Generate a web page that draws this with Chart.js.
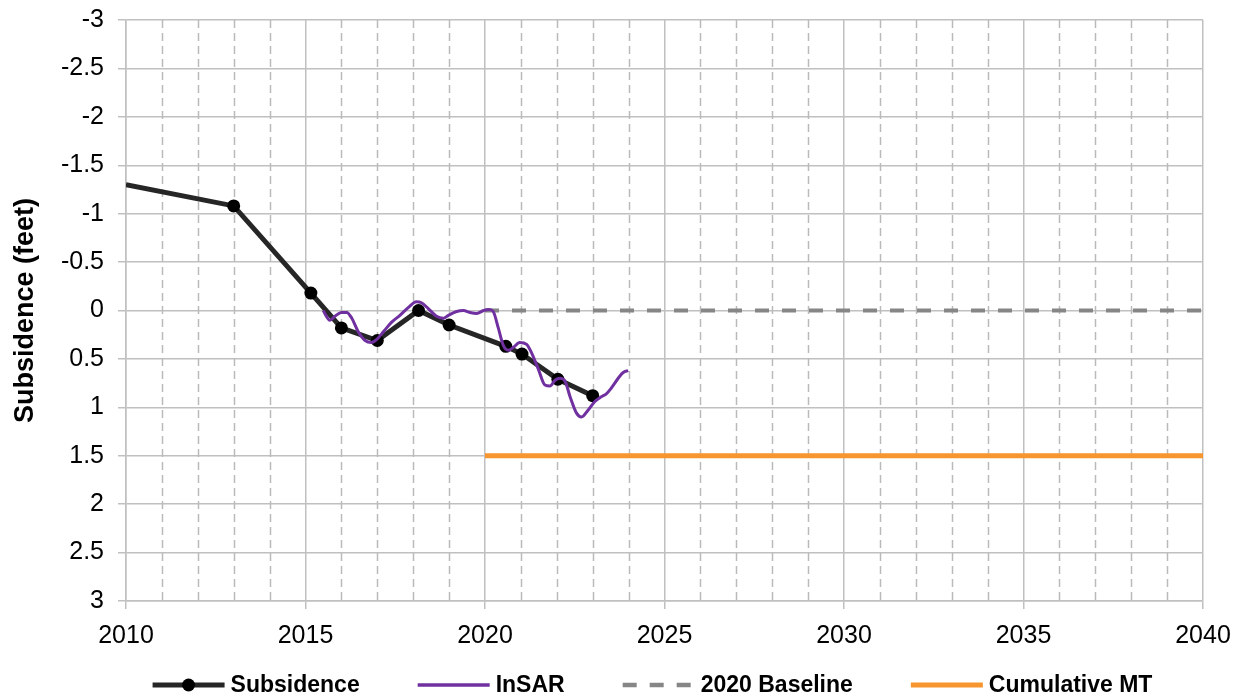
<!DOCTYPE html>
<html>
<head>
<meta charset="utf-8">
<script src="https://cdn.jsdelivr.net/npm/chart.js@4.4.1/dist/chart.umd.min.js"></script>
<style>
  html, body { margin: 0; padding: 0; background: #fff; }
  #wrap { width: 1244px; height: 698px; }
</style>
</head>
<body>
<div id="wrap"><canvas id="subsidenceChart" width="1244" height="698"></canvas></div>
<script>
const subsidenceYears = [2010, 2013.0, 2015.15, 2016.0, 2017.0, 2018.15, 2019.0, 2020.58, 2021.03, 2022.03, 2023.0];
const subsidenceValues = [-1.3, -1.08, -0.18, 0.18, 0.31, 0.0, 0.15, 0.37, 0.45, 0.71, 0.88];

const insarYears = [2015.49, 2015.68, 2015.82, 2016.0, 2016.15, 2016.29, 2016.47, 2016.66, 2016.84, 2016.98,
  2017.17, 2017.4, 2017.63, 2017.86, 2018.09, 2018.23, 2018.42, 2018.65, 2018.84, 2018.98,
  2019.21, 2019.4, 2019.58, 2019.77, 2019.96, 2020.12, 2020.23, 2020.37, 2020.51, 2020.65,
  2020.79, 2020.97, 2021.16, 2021.3, 2021.48, 2021.67, 2021.81, 2021.95, 2022.09, 2022.23,
  2022.37, 2022.55, 2022.69, 2022.87, 2023.06, 2023.24, 2023.38, 2023.52, 2023.71, 2023.85, 2023.99];
const insarValues = [0.0, 0.1, 0.06, 0.02, 0.02, 0.08, 0.22, 0.31, 0.33, 0.3,
  0.22, 0.12, 0.05, -0.03, -0.09, -0.08, -0.02, 0.06, 0.08, 0.05,
  0.01, 0.0, 0.02, 0.03, 0.0, -0.01, 0.01, 0.18, 0.36, 0.41,
  0.38, 0.33, 0.35, 0.44, 0.6, 0.77, 0.78, 0.72, 0.7, 0.73,
  0.89, 1.06, 1.1, 1.03, 0.94, 0.89, 0.86, 0.8, 0.7, 0.64, 0.62];

const baselineYears = [2020, 2040];
const baselineValues = [0, 0];

const mtYears = [2020, 2040];
const mtValues = [1.5, 1.5];

const seriesNames = ["Subsidence", "InSAR", "2020 Baseline", "Cumulative MT"];

const toPoints = (xs, ys) => xs.map((x, i) => ({ x: x, y: ys[i] }));

const tickFont = '"Liberation Sans", Arial, sans-serif';
const gridGray = "#c0c0c0";

// dashed lines for the in-between years
const minorGrid = {
  id: "minorGrid",
  beforeDatasetsDraw(chart) {
    const { ctx, chartArea, scales } = chart;
    const x = scales.x;
    ctx.save();
    ctx.strokeStyle = "#bababa";
    ctx.lineWidth = 1.5;
    ctx.setLineDash([8, 5]);
    x.ticks.forEach(t => {
      if (t.value % 5 === 0) return;
      const px = Math.round(x.getPixelForValue(t.value)) + 0.5;
      ctx.beginPath();
      ctx.moveTo(px, chartArea.top);
      ctx.lineTo(px, chartArea.bottom);
      ctx.stroke();
    });
    ctx.restore();
  }
};

// legend under the axis, line samples like the original
const bottomLegend = {
  id: "bottomLegend",
  afterDraw(chart) {
    const { ctx, chartArea } = chart;
    const sample = 72, gapText = 6, gapItem = 58, y = 685;
    ctx.save();
    ctx.font = 'bold 23px ' + tickFont;
    const items = chart.data.datasets.map(ds => ({ ds, w: ctx.measureText(ds.label).width }));
    const total = items.reduce((s, it) => s + sample + gapText + it.w, 0) + gapItem * (items.length - 1);
    let x = (chartArea.left + chartArea.right) / 2 - 12 - total / 2;
    items.forEach(({ ds, w }) => {
      ctx.strokeStyle = ds.borderColor;
      ctx.lineWidth = ds.legendWidth;
      ctx.setLineDash(ds.borderDash || []);
      ctx.beginPath();
      ctx.moveTo(x, y);
      ctx.lineTo(x + sample, y);
      ctx.stroke();
      ctx.setLineDash([]);
      if (ds.legendMarker) {
        ctx.fillStyle = ds.pointBackgroundColor;
        ctx.beginPath();
        ctx.arc(x + sample / 2, y, 6.5, 0, Math.PI * 2);
        ctx.fill();
      }
      ctx.fillStyle = "#000";
      ctx.textBaseline = "middle";
      ctx.fillText(ds.label, x + sample + gapText, y + 1);
      x += sample + gapText + w + gapItem;
    });
    ctx.restore();
  }
};

const canvas = document.getElementById("subsidenceChart");

new Chart(canvas, {
  type: "line",
  data: {
    datasets: [
      {
        label: seriesNames[0],
        data: toPoints(subsidenceYears, subsidenceValues),
        borderColor: "#262626",
        borderWidth: 5,
        legendWidth: 5,
        legendMarker: true,
        pointBackgroundColor: "#000",
        pointBorderWidth: 0,
        pointRadius: ctx => ctx.dataIndex === 0 ? 0 : 6.5,
        tension: 0,
        order: 2
      },
      {
        label: seriesNames[1],
        data: toPoints(insarYears, insarValues),
        borderColor: "#7030a0",
        borderWidth: 3,
        legendWidth: 3.5,
        pointRadius: 0,
        tension: 0.4,
        cubicInterpolationMode: "monotone",
        order: 1
      },
      {
        label: seriesNames[2],
        data: toPoints(baselineYears, baselineValues),
        borderColor: "#868686",
        borderWidth: 4,
        legendWidth: 4.5,
        borderDash: [14, 13],
        pointRadius: 0,
        order: 3
      },
      {
        label: seriesNames[3],
        data: toPoints(mtYears, mtValues),
        borderColor: "#f7962e",
        borderWidth: 5,
        legendWidth: 5,
        pointRadius: 0,
        order: 4
      }
    ]
  },
  options: {
    responsive: false,
    animation: false,
    layout: { padding: { top: 20, right: 41, bottom: 47, left: 0 } },
    plugins: {
      legend: { display: false },
      tooltip: { enabled: false }
    },
    scales: {
      x: {
        type: "linear",
        min: 2010,
        max: 2040,
        afterFit: scale => { scale.height = 50; },
        ticks: {
          stepSize: 1,
          autoSkip: false,
          maxRotation: 0,
          padding: 12,
          color: "#000",
          font: { family: tickFont, size: 25 },
          callback: v => v % 5 === 0 ? String(v) : ""
        },
        grid: {
          color: ctx => ctx.tick && ctx.tick.value % 5 !== 0 ? "rgba(0,0,0,0)" : gridGray,
          tickColor: ctx => ctx.tick && ctx.tick.value % 5 !== 0 ? "rgba(0,0,0,0)" : gridGray,
          lineWidth: 1.5,
          tickLength: 8
        },
        border: { color: gridGray, width: 1.5 }
      },
      y: {
        min: -3,
        max: 3,
        reverse: true,
        afterFit: scale => {
          scale.width = 126;
          scale.paddingTop = 0;
          scale.paddingBottom = 0;
        },
        ticks: {
          stepSize: 0.5,
          padding: 14,
          color: "#000",
          font: { family: tickFont, size: 25 },
          callback: v => String(Math.round(v * 10) / 10)
        },
        grid: {
          color: gridGray,
          tickColor: gridGray,
          lineWidth: 1.5,
          tickLength: 8
        },
        border: { color: gridGray, width: 1.5 },
        title: {
          display: true,
          text: "Subsidence (feet)",
          color: "#000",
          font: { family: tickFont, size: 27, weight: "bold" },
          padding: { top: 9, bottom: 0 }
        }
      }
    }
  },
  plugins: [minorGrid, bottomLegend]
});
</script>
</body>
</html>
